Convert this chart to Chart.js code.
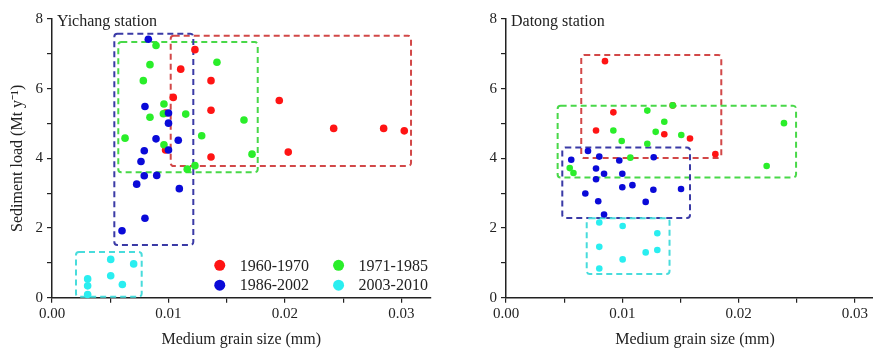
<!DOCTYPE html>
<html>
<head>
<meta charset="utf-8">
<script src="https://cdn.jsdelivr.net/npm/chart.js@4/dist/chart.umd.min.js"></script>
<style>
  html, body { margin: 0; padding: 0; background: #fff; overflow: hidden; }
  #wrap { position: relative; width: 873px; height: 352px; overflow: hidden; }
  #c1 { position: absolute; left: 0; top: 0; }
  #c2 { position: absolute; left: 440px; top: 0; }
</style>
</head>
<body>
<div id="wrap">
  <canvas id="c1" width="440" height="352"></canvas>
  <canvas id="c2" width="445" height="352"></canvas>
</div>
<script>
// ---- data ----
const periods = ["1960-1970", "1971-1985", "1986-2002", "2003-2010"];
const pointColors = ["#ff1414", "#2aee2a", "#0a0ad8", "#2aeef0"];
const boxColors   = ["#d24848", "#48d848", "#3a3aa6", "#48dcdc"];

// Yichang station
const ycRedX   = [0.01227, 0.01105, 0.01041, 0.01365, 0.01365, 0.01365, 0.01951, 0.02418, 0.02847, 0.03024, 0.02028, 0.00975, 0.00975];
const ycRedY   = [7.12, 6.56, 5.75, 6.23, 5.38, 4.04, 5.66, 4.86, 4.86, 4.79, 4.18, 5.30, 4.24];
const ycGreenX = [0.00893, 0.00841, 0.00784, 0.00961, 0.00841, 0.00956, 0.01148, 0.00627, 0.00961, 0.01285, 0.01416, 0.01227, 0.01161, 0.01648, 0.01717];
const ycGreenY = [7.24, 6.69, 6.23, 5.56, 5.18, 5.28, 5.27, 4.58, 4.39, 4.65, 6.76, 3.79, 3.69, 5.10, 4.12];
const ycBlueX  = [0.00827, 0.00798, 0.01000, 0.01000, 0.00893, 0.01084, 0.00792, 0.01000, 0.00764, 0.00792, 0.00899, 0.00727, 0.01093, 0.00798, 0.00601];
const ycBlueY  = [7.42, 5.49, 5.30, 5.01, 4.56, 4.52, 4.22, 4.24, 3.91, 3.50, 3.51, 3.26, 3.13, 2.28, 1.92];
const ycCyanX  = [0.00504, 0.00701, 0.00306, 0.00504, 0.00306, 0.00604, 0.00306];
const ycCyanY  = [1.10, 0.97, 0.54, 0.63, 0.34, 0.38, 0.09];
// dashed boxes: [xmin, xmax, ymin, ymax] per period
const ycBoxes = [
  [0.01019, 0.03082, 3.78, 7.52],
  [0.00569, 0.01766, 3.60, 7.34],
  [0.00535, 0.01213, 1.51, 7.58],
  [0.00206, 0.00770, 0.03, 1.31],
];

// Datong station
const dtRedX   = [0.00851, 0.01433, 0.00923, 0.00774, 0.01361, 0.01582, 0.01800];
const dtRedY   = [6.79, 5.52, 5.32, 4.80, 4.69, 4.57, 4.12];
const dtGreenX = [0.01433, 0.01215, 0.01361, 0.00923, 0.01287, 0.01507, 0.00995, 0.01215, 0.01069, 0.00548, 0.00580, 0.02390, 0.02241];
const dtGreenY = [5.52, 5.37, 5.05, 4.80, 4.76, 4.67, 4.50, 4.42, 4.02, 3.72, 3.58, 5.01, 3.78];
const dtBlueX  = [0.00705, 0.00802, 0.00561, 0.00974, 0.01270, 0.00774, 0.00774, 0.00843, 0.01000, 0.01000, 0.01087, 0.01267, 0.01505, 0.00682, 0.00793, 0.01201, 0.00843];
const dtBlueY  = [4.21, 4.05, 3.96, 3.94, 4.03, 3.71, 3.40, 3.56, 3.56, 3.17, 3.23, 3.10, 3.12, 2.99, 2.77, 2.75, 2.39];
const dtCyanX  = [0.00802, 0.01003, 0.01301, 0.00802, 0.01201, 0.01301, 0.01003, 0.00802];
const dtCyanY  = [2.16, 2.06, 1.85, 1.46, 1.30, 1.37, 1.10, 0.84];
const dtBoxes = [
  [0.00647, 0.01851, 4.01, 6.97],
  [0.00444, 0.02494, 3.45, 5.51],
  [0.00484, 0.01582, 2.29, 4.31],
  [0.00694, 0.01406, 0.68, 2.28],
];

const xMin = 0, xMax = 0.0325, xStep = 0.005;
const yMin = 0, yMax = 8, yStep = 1;

const FONT = "'Liberation Serif', 'Times New Roman', serif";
const INK = "#222";

function pts(xs, ys) { return xs.map((x, i) => ({ x, y: ys[i] })); }

// ── dashed boxes behind the points ─────────────────────────
const boxPlugin = {
  id: "boxes",
  beforeDatasetsDraw(chart, args, opts) {
    const { ctx, scales: { x, y } } = chart;
    ctx.save();
    ctx.lineWidth = 2;
    ctx.setLineDash([6, 4]);
    opts.boxes.forEach((b, i) => {
      const x0 = x.getPixelForValue(b[0]), x1 = x.getPixelForValue(b[1]);
      const y0 = y.getPixelForValue(b[3]), y1 = y.getPixelForValue(b[2]);
      ctx.strokeStyle = boxColors[i];
      ctx.beginPath();
      ctx.roundRect(x0, y0, x1 - x0, y1 - y0, 3);
      ctx.stroke();
    });
    ctx.restore();
  },
};

// ── station name + optional legend ─────────────────────────
const notePlugin = {
  id: "notes",
  afterDraw(chart, args, opts) {
    const { ctx, chartArea } = chart;
    ctx.save();
    ctx.fillStyle = INK;
    ctx.font = "16px " + FONT;
    ctx.textBaseline = "middle";
    ctx.fillText(opts.station, chartArea.left + 5, chartArea.top + 3);
    if (opts.legend) {
      const x = chart.scales.x, y = chart.scales.y;
      const cols = [x.getPixelForValue(0.01440), x.getPixelForValue(0.02460)];
      const rows = [y.getPixelForValue(0.93), y.getPixelForValue(0.36)];
      ctx.font = "16px " + FONT;
      periods.forEach((label, i) => {
        const cx = cols[i % 2], cy = rows[Math.floor(i / 2)];
        ctx.fillStyle = pointColors[i];
        ctx.beginPath();
        ctx.arc(cx, cy, 5.5, 0, Math.PI * 2);
        ctx.fill();
        ctx.fillStyle = INK;
        ctx.fillText(label, cx + 20, cy + 1);
      });
    }
    ctx.restore();
  },
};

function makeChart(id, series, boxes, station, opt) {
  const datasets = series.map((s, i) => ({
    label: periods[i],
    data: s,
    backgroundColor: pointColors[i],
    borderWidth: 0,
    pointRadius: opt.r,
    pointHoverRadius: opt.r,
    order: 4 - i,
    clip: false,
  }));

  return new Chart(document.getElementById(id), {
    type: "scatter",
    data: { datasets },
    plugins: [boxPlugin, notePlugin],
    options: {
      responsive: false,
      animation: false,
      events: [],
      layout: { autoPadding: false, padding: { top: 19, right: opt.padRight, left: 0, bottom: 0 } },
      plugins: {
        legend: { display: false },
        tooltip: { enabled: false },
        boxes: { boxes },
        notes: { station, legend: opt.legend },
      },
      scales: {
        x: {
          type: "linear",
          min: xMin, max: xMax,
          afterFit: (s) => { s.height = 54.3; },
          border: { color: INK, width: 1.5 },
          grid: { drawOnChartArea: false, drawTicks: true, tickLength: 5, color: INK, lineWidth: 1.2 },
          ticks: {
            stepSize: xStep,
            includeBounds: false,
            maxRotation: 0,
            autoSkip: false,
            padding: 2,
            color: INK,
            font: { family: FONT, size: 15 },
            callback: (v) => (Math.round(v * 1000) % 10 === 0 ? v.toFixed(2) : ""),
          },
          title: {
            display: true,
            text: "Medium grain size (mm)",
            color: INK,
            font: { family: FONT, size: 16 },
            padding: { top: 0, bottom: 3 },
          },
        },
        y: {
          type: "linear",
          min: yMin, max: yMax,
          afterFit: (s) => { s.width = opt.yw; },
          border: { color: INK, width: 1.5 },
          grid: { drawOnChartArea: false, drawTicks: true, tickLength: 5, color: INK, lineWidth: 1.2 },
          ticks: {
            stepSize: yStep,
            autoSkip: false,
            padding: 4,
            color: INK,
            font: { family: FONT, size: 15 },
            callback: (v) => (v % 2 === 0 ? String(v) : ""),
          },
          title: {
            display: opt.ytitle,
            text: "Sediment load (Mt y\u207B\u00B9)",
            color: INK,
            font: { family: FONT, size: 16 },
            padding: { top: 8, bottom: 0 },
          },
        },
      },
    },
  });
}

makeChart("c1",
  [pts(ycRedX, ycRedY), pts(ycGreenX, ycGreenY), pts(ycBlueX, ycBlueY), pts(ycCyanX, ycCyanY)],
  ycBoxes, "Yichang station",
  { r: 3.8, yw: 52, padRight: 9.4, legend: true, ytitle: true });

makeChart("c2",
  [pts(dtRedX, dtRedY), pts(dtGreenX, dtGreenY), pts(dtBlueX, dtBlueY), pts(dtCyanX, dtCyanY)],
  dtBoxes, "Datong station",
  { r: 3.3, yw: 66, padRight: 1, legend: false, ytitle: false });
</script>
</body>
</html>
